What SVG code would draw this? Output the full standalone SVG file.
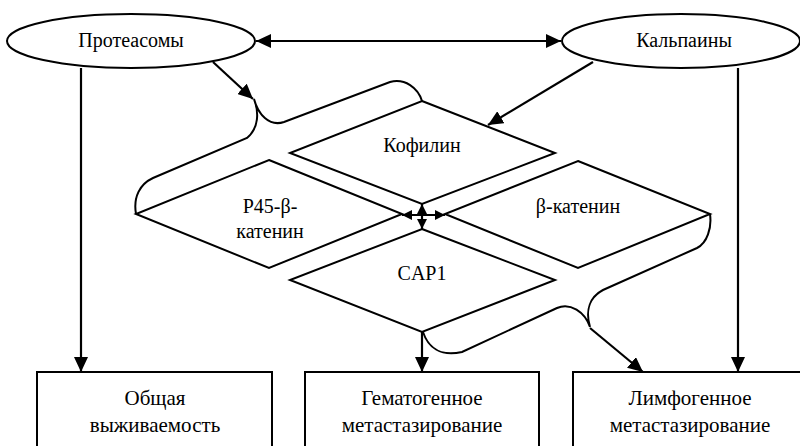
<svg xmlns="http://www.w3.org/2000/svg" width="800" height="446" viewBox="0 0 800 446">
<style>
.sh{fill:#fff;stroke:#000;stroke-width:2}
.ln{fill:none;stroke:#000;stroke-width:2.2}
.br{fill:none;stroke:#000;stroke-width:2}
.t{font-family:'Liberation Serif','Times New Roman','DejaVu Serif',serif;font-size:20px;fill:#000;text-anchor:middle}
.bx{font-size:21px}
</style>
<defs>
<marker id="ah" markerUnits="userSpaceOnUse" markerWidth="16" markerHeight="14" refX="15" refY="7" orient="auto-start-reverse">
<path d="M0,0 L15,7 L0,14 z" fill="#000"/>
</marker>
<marker id="as" markerUnits="userSpaceOnUse" markerWidth="10" markerHeight="10" refX="10" refY="5" orient="auto-start-reverse">
<path d="M0,0 L10,5 L0,10 z" fill="#000"/>
</marker>
</defs>
<rect width="800" height="446" fill="#fff"/>

<g id="node-proteasomes">
<ellipse class="sh" cx="131" cy="41" rx="124" ry="27"/>
<text class="t" font-family="Liberation Serif, serif" x="131" y="47">Протеасомы</text>
</g>
<g id="node-calpains">
<ellipse class="sh" cx="681" cy="41" rx="119" ry="27"/>
<text class="t" font-family="Liberation Serif, serif" x="684" y="47">Кальпаины</text>
</g>

<g id="node-cofilin">
<polygon class="sh" points="422,101 555,153 422,204 290,153"/>
<text class="t" font-family="Liberation Serif, serif" x="422" y="152">Кофилин</text>
</g>
<g id="node-p45">
<polygon class="sh" points="269,160 402,214 269,268 136,214"/>
<text class="t" font-family="Liberation Serif, serif" x="270" y="213">P45-β-</text>
<text class="t" font-family="Liberation Serif, serif" x="270" y="238">катенин</text>
</g>
<g id="node-bcatenin">
<polygon class="sh" points="578,161 710,214 578,268 445,214"/>
<text class="t" font-family="Liberation Serif, serif" x="578" y="213">β-катенин</text>
</g>
<g id="node-cap1">
<polygon class="sh" points="422,229 555,280 422,332 290,280"/>
<text class="t" font-family="Liberation Serif, serif" x="422" y="280">CAP1</text>
</g>

<g id="node-survival">
<rect class="sh" x="37" y="372" width="235" height="90"/>
<text class="t bx" font-family="Liberation Serif, serif" x="155" y="405">Общая</text>
<text class="t bx" font-family="Liberation Serif, serif" x="155" y="432">выживаемость</text>
</g>
<g id="node-hemat">
<rect class="sh" x="305" y="372" width="234" height="90"/>
<text class="t bx" font-family="Liberation Serif, serif" x="422" y="405">Гематогенное</text>
<text class="t bx" font-family="Liberation Serif, serif" x="422" y="432">метастазирование</text>
</g>
<g id="node-lymph">
<rect class="sh" x="573" y="372" width="234" height="90"/>
<text class="t bx" font-family="Liberation Serif, serif" x="690" y="405">Лимфогенное</text>
<text class="t bx" font-family="Liberation Serif, serif" x="690" y="432">метастазирование</text>
</g>

<g id="connectors">
<path class="br" d="M422,101 C418,88 405,78 390,82 L284,122 C269,127 258,114 254,99 C259,112 259,128 247,138 L153,178 C140,184 133,197 136,214"/>
<path class="br" d="M423,332 C428,347 440,357 462,352 L557,308 C570,302 585,312 590,327 C585,310 590,297 603,290 L697,248 C707,243 712,228 710,214"/>
<line class="ln" x1="256" y1="41" x2="561" y2="41" marker-start="url(#ah)" marker-end="url(#ah)"/>
<line class="ln" x1="213" y1="62" x2="253" y2="99" marker-end="url(#ah)"/>
<line class="ln" x1="593" y1="62" x2="488" y2="125" marker-end="url(#ah)"/>
<line class="ln" x1="81" y1="68" x2="81" y2="372" marker-end="url(#ah)"/>
<line class="ln" x1="738" y1="68" x2="738" y2="372" marker-end="url(#ah)"/>
<line class="ln" x1="422" y1="332" x2="422" y2="372" marker-end="url(#ah)"/>
<line class="ln" x1="590" y1="328" x2="643" y2="372" marker-end="url(#ah)"/>
<line class="ln" x1="422" y1="204" x2="422" y2="229" marker-start="url(#as)" marker-end="url(#as)"/>
<line class="ln" x1="402" y1="215" x2="445" y2="215" marker-start="url(#as)" marker-end="url(#as)"/>
</g>
</svg>
